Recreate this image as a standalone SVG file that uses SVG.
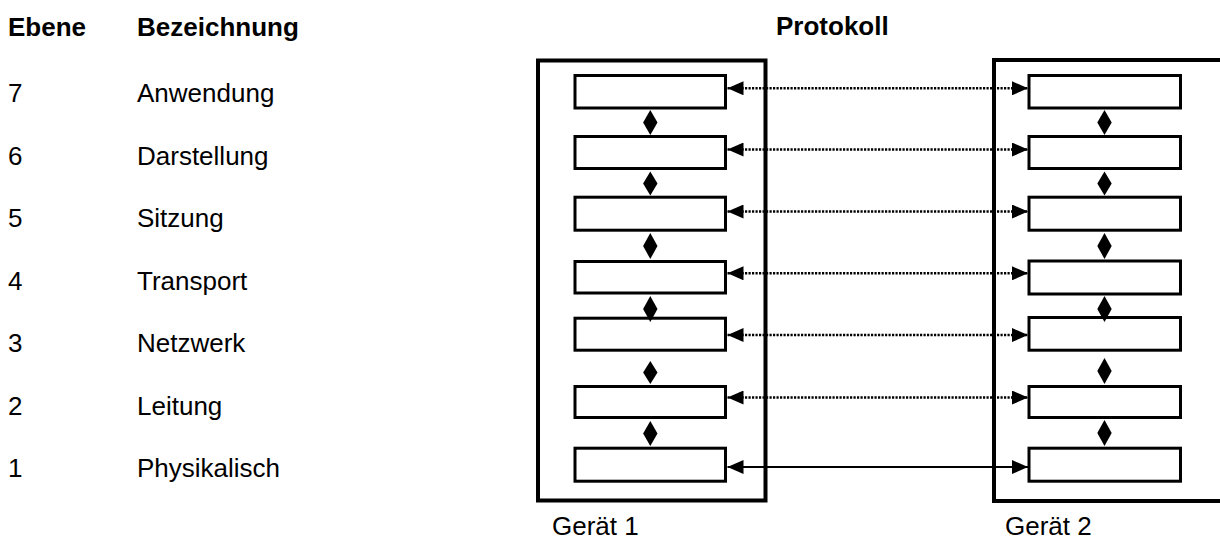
<svg xmlns="http://www.w3.org/2000/svg" width="1220" height="547" viewBox="0 0 1220 547">
  <style>
    text { font-family: "Liberation Sans", Arial, sans-serif; font-size: 26px; fill: #000; }
    .hdr { font-weight: bold; }
    .dev { fill: none; stroke: #000; stroke-width: 4; }
    .layer { fill: #fff; stroke: #000; stroke-width: 3; }
    .dot { fill: none; stroke: #000; stroke-width: 2.4; stroke-dasharray: 2.2 1.3; }
    .solid { fill: none; stroke: #000; stroke-width: 1.8; }
    .dia { fill: #000; stroke: none; }
  </style>
  <defs>
    <marker id="ah" markerUnits="userSpaceOnUse" markerWidth="17" markerHeight="14" refX="16" refY="7" orient="auto-start-reverse">
      <path d="M0,0 L16,7 L0,14 z" fill="#000"/>
    </marker>
  </defs>
  <rect width="1220" height="547" fill="#fff"/>

  <g id="headers">
    <text class="hdr" x="8" y="36">Ebene</text>
    <text class="hdr" x="137" y="36">Bezeichnung</text>
    <text class="hdr" x="776" y="35">Protokoll</text>
  </g>

  <g id="layer-names">
    <text x="8" y="102">7</text><text x="137" y="102">Anwendung</text>
    <text x="8" y="164.5">6</text><text x="137" y="164.5">Darstellung</text>
    <text x="8" y="227">5</text><text x="137" y="227">Sitzung</text>
    <text x="8" y="289.5">4</text><text x="137" y="289.5">Transport</text>
    <text x="8" y="352">3</text><text x="137" y="352">Netzwerk</text>
    <text x="8" y="414.5">2</text><text x="137" y="414.5">Leitung</text>
    <text x="8" y="477">1</text><text x="137" y="477">Physikalisch</text>
  </g>

  <g id="geraet1">
    <rect class="dev" x="538" y="60.5" width="227.5" height="440"/>
    <text x="552" y="535">Gerät 1</text>
  </g>
  <g id="geraet2">
    <rect class="dev" x="994" y="60" width="260" height="441"/>
    <text x="1005" y="535">Gerät 2</text>
  </g>

  <g id="g1-layers">
    <rect id="g1-l7" class="layer" x="575" y="75.5" width="150.5" height="32.5"/>
    <rect id="g1-l6" class="layer" x="575" y="136.5" width="150.5" height="32"/>
    <rect id="g1-l5" class="layer" x="575" y="197.2" width="150.5" height="33"/>
    <rect id="g1-l4" class="layer" x="575" y="261.5" width="150.5" height="31.5"/>
    <rect id="g1-l3" class="layer" x="575" y="318.2" width="150.5" height="32"/>
    <rect id="g1-l2" class="layer" x="575" y="386.5" width="150.5" height="31"/>
    <rect id="g1-l1" class="layer" x="575" y="448.2" width="150.5" height="33"/>
  </g>
  <g id="g2-layers">
    <rect id="g2-l7" class="layer" x="1029" y="75.5" width="151.5" height="32.5"/>
    <rect id="g2-l6" class="layer" x="1029" y="136.5" width="151.5" height="32"/>
    <rect id="g2-l5" class="layer" x="1029" y="197.2" width="151.5" height="33"/>
    <rect id="g2-l4" class="layer" x="1029" y="261" width="151.5" height="33"/>
    <rect id="g2-l3" class="layer" x="1029" y="317.5" width="151.5" height="32.7"/>
    <rect id="g2-l2" class="layer" x="1029" y="386.5" width="151.5" height="31"/>
    <rect id="g2-l1" class="layer" x="1029" y="448.2" width="151.5" height="33"/>
  </g>

  <g id="connectors">
    <path class="dot" d="M727.5,88.3 H1028" marker-start="url(#ah)" marker-end="url(#ah)"/>
    <path class="dot" d="M727.5,149.5 H1028" marker-start="url(#ah)" marker-end="url(#ah)"/>
    <path class="dot" d="M727.5,211.5 H1028" marker-start="url(#ah)" marker-end="url(#ah)"/>
    <path class="dot" d="M727.5,273.3 H1028" marker-start="url(#ah)" marker-end="url(#ah)"/>
    <path class="dot" d="M727.5,335 H1028" marker-start="url(#ah)" marker-end="url(#ah)"/>
    <path class="dot" d="M727.5,397.5 H1028" marker-start="url(#ah)" marker-end="url(#ah)"/>
    <path class="solid" d="M727.5,467 H1028" marker-start="url(#ah)" marker-end="url(#ah)"/>

    <polygon class="dia" points="650.3,110 657.5,122.5 650.3,135 643.1,122.5"/>
    <polygon class="dia" points="650.3,171.5 657.5,183.5 650.3,195.5 643.1,183.5"/>
    <polygon class="dia" points="650.3,233 657.5,246 650.3,259 643.1,246"/>
    <polygon class="dia" points="650.3,296 657.5,309 650.3,322 643.1,309"/>
    <polygon class="dia" points="650.3,361 657.5,372.5 650.3,384 643.1,372.5"/>
    <polygon class="dia" points="650.3,421 657.5,433.5 650.3,446 643.1,433.5"/>

    <polygon class="dia" points="1104.5,110 1111.7,122.5 1104.5,135 1097.3,122.5"/>
    <polygon class="dia" points="1104.5,171.5 1111.7,183.5 1104.5,195.5 1097.3,183.5"/>
    <polygon class="dia" points="1104.5,233 1111.7,246 1104.5,259 1097.3,246"/>
    <polygon class="dia" points="1104.5,296 1111.7,309 1104.5,322 1097.3,309"/>
    <polygon class="dia" points="1104.5,358 1111.7,371 1104.5,384 1097.3,371"/>
    <polygon class="dia" points="1104.5,420 1111.7,433 1104.5,446 1097.3,433"/>
  </g>
</svg>
